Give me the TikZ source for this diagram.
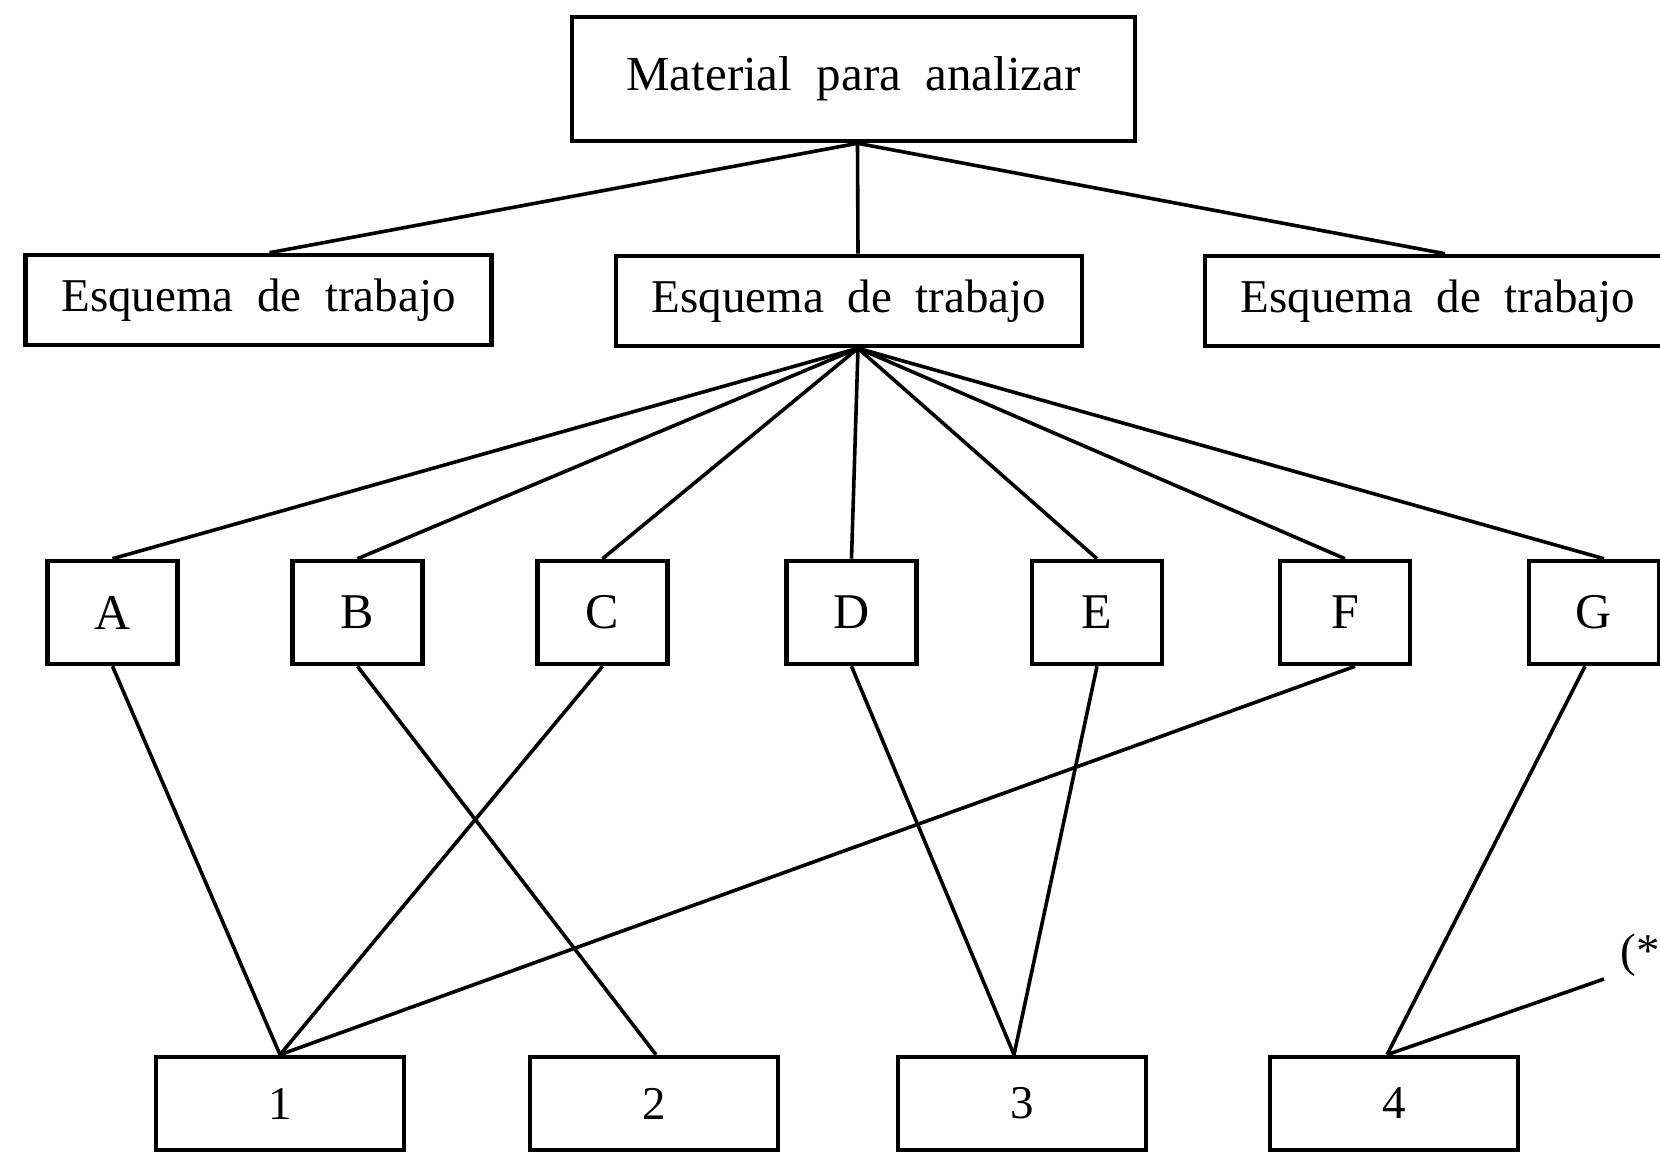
\documentclass[tikz,border=0pt]{standalone}
\usepackage{fontspec}
\setmainfont{Liberation Serif}
\begin{document}
\begin{tikzpicture}[x=0.5pt,y=-0.5pt,
  box/.style={draw,line width=2.3pt,inner sep=0pt,font=\fontsize{23.5}{26}\selectfont},
  topbox/.style={box,minimum width=281.5pt,minimum height=62pt,font=\fontsize{24.5}{27}\selectfont},
  schemebox/.style={box,minimum width=233pt,minimum height=45pt},
  letterbox/.style={box,minimum width=65pt,minimum height=51.5pt,font=\fontsize{25}{28}\selectfont},
  numbox/.style={box,minimum width=124pt,minimum height=46.5pt},
  link/.style={line width=1.8pt}]
\useasboundingbox (0,0) rectangle (1660,1152);
\node[topbox] (top) at (853.5,79) {Material\ \ para\ \ analizar};
\node[schemebox] (s1) at (258.5,300) {Esquema\ \ de\ \ trabajo};
\node[schemebox] (s2) at (849,301) {Esquema\ \ de\ \ trabajo};
\node[schemebox] (s3) at (1438,301) {Esquema\ \ de\ \ trabajo};
\node[letterbox] (A) at (112.5,612.5) {A};
\node[letterbox] (B) at (357.5,612.5) {B};
\node[letterbox] (C) at (602.5,612.5) {C};
\node[letterbox] (D) at (851.5,612.5) {D};
\node[letterbox] (E) at (1097,612.5) {E};
\node[letterbox] (F) at (1345,612.5) {F};
\node[letterbox] (G) at (1594,612.5) {G};
\node[numbox] (n1) at (280,1103.5) {1};
\node[numbox] (n2) at (654,1103.5) {2};
\node[numbox] (n3) at (1022,1103.5) {3};
\node[numbox] (n4) at (1394,1103.5) {4};
\node[anchor=west,inner sep=0pt,font=\fontsize{23.5}{26}\selectfont] (star) at (1620,955) {(*};
\coordinate (starend) at (1604,979);
\coordinate (tb) at ([xshift=2pt]top.south);
\coordinate (sb) at ([xshift=4.5pt]s2.south);
\draw[link] (tb) -- ([xshift=5.5pt]s1.north);
\draw[link] (tb) -- ([xshift=4.5pt]s2.north);
\draw[link] (tb) -- ([xshift=3.5pt]s3.north);
\foreach \n in {A,B,C,D,E,F}{\draw[link] (sb) -- (\n.north);}
\draw[link] (sb) -- ([xshift=5pt]G.north);
\draw[link] (A.south) -- (n1.north);
\draw[link] (B.south) -- ([xshift=1pt]n2.north);
\draw[link] (C.south) -- (n1.north);
\draw[link] (D.south) -- ([xshift=-4pt]n3.north);
\draw[link] (E.south) -- ([xshift=-4pt]n3.north);
\draw[link] ([xshift=5pt]F.south) -- (n1.north);
\draw[link] ([xshift=-4.5pt]G.south) -- ([xshift=-3.5pt]n4.north);
\draw[link] ([xshift=-3.5pt]n4.north) -- (starend);
\end{tikzpicture}
\end{document}
